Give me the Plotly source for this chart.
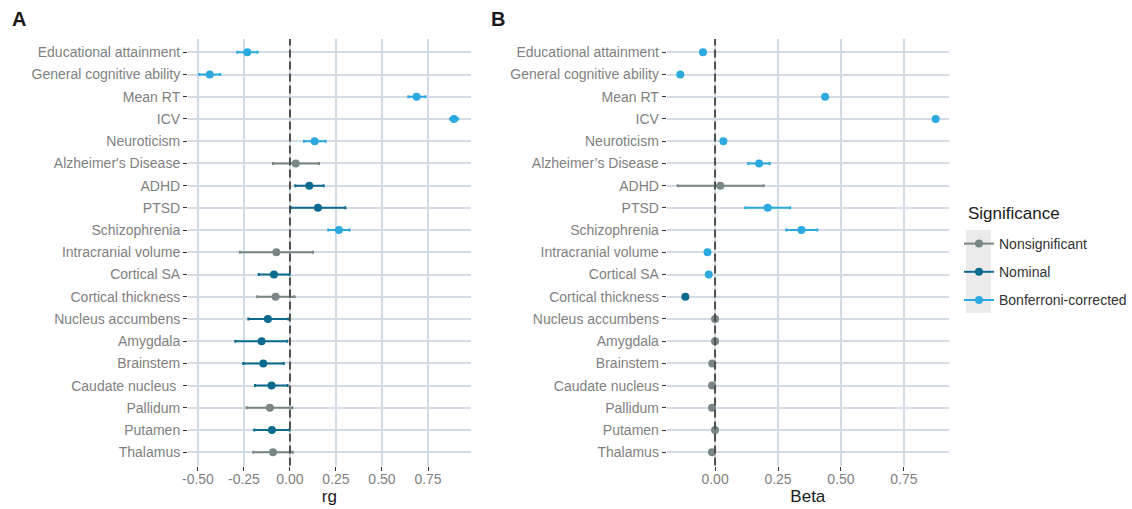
import plotly.graph_objects as go

# ---------------- data ----------------
cats_a = ["Educational attainment", "General cognitive ability", "Mean RT", "ICV",
          "Neuroticism", "Alzheimer's Disease", "ADHD", "PTSD", "Schizophrenia",
          "Intracranial volume", "Cortical SA", "Cortical thickness",
          "Nucleus accumbens", "Amygdala", "Brainstem", "Caudate nucleus\u00a0",
          "Pallidum", "Putamen", "Thalamus"]
cats_b = ["Educational attainment", "General cognitive ability", "Mean RT", "ICV",
          "Neuroticism", "Alzheimer\u2019s Disease", "ADHD", "PTSD", "Schizophrenia",
          "Intracranial volume", "Cortical SA", "Cortical thickness",
          "Nucleus accumbens", "Amygdala", "Brainstem", "Caudate nucleus",
          "Pallidum", "Putamen", "Thalamus"]

rg_est = [-0.232, -0.436, 0.688, 0.891, 0.134, 0.031, 0.105, 0.152, 0.266, -0.074,
          -0.087, -0.078, -0.120, -0.154, -0.145, -0.100, -0.109, -0.098, -0.092]
rg_lo = [-0.286, -0.493, 0.643, 0.870, 0.076, -0.092, 0.029, 0.005, 0.208, -0.272,
         -0.170, -0.178, -0.226, -0.297, -0.254, -0.190, -0.236, -0.194, -0.199]
rg_hi = [-0.176, -0.379, 0.737, 0.915, 0.194, 0.158, 0.183, 0.301, 0.324, 0.125,
         -0.002, 0.025, -0.009, -0.015, -0.034, -0.013, 0.013, -0.002, 0.015]
rg_sig = ["Bonferroni-corrected", "Bonferroni-corrected", "Bonferroni-corrected",
          "Bonferroni-corrected", "Bonferroni-corrected", "Nonsignificant", "Nominal",
          "Nominal", "Bonferroni-corrected", "Nonsignificant", "Nominal", "Nonsignificant",
          "Nominal", "Nominal", "Nominal", "Nominal", "Nonsignificant", "Nominal",
          "Nonsignificant"]

beta_est = [-0.048, -0.138, 0.437, 0.876, 0.033, 0.175, 0.021, 0.209, 0.343, -0.030,
            -0.025, -0.118, 0.000, 0.000, -0.011, -0.012, -0.012, 0.000, -0.012]
beta_lo = [-0.056, -0.145, 0.431, 0.869, 0.027, 0.132, -0.148, 0.120, 0.283, -0.036,
           -0.031, -0.124, -0.004, -0.004, -0.015, -0.016, -0.016, -0.004, -0.016]
beta_hi = [-0.040, -0.131, 0.443, 0.883, 0.039, 0.217, 0.193, 0.298, 0.406, -0.024,
           -0.019, -0.112, 0.004, 0.004, -0.007, -0.008, -0.008, 0.004, -0.008]
beta_sig = ["Bonferroni-corrected", "Bonferroni-corrected", "Bonferroni-corrected",
            "Bonferroni-corrected", "Bonferroni-corrected", "Bonferroni-corrected",
            "Nonsignificant", "Bonferroni-corrected", "Bonferroni-corrected",
            "Bonferroni-corrected", "Bonferroni-corrected", "Nominal",
            "Nonsignificant", "Nonsignificant", "Nonsignificant", "Nonsignificant",
            "Nonsignificant", "Nonsignificant", "Nonsignificant"]

sig_levels = ["Nonsignificant", "Nominal", "Bonferroni-corrected"]
sig_colors = {"Nonsignificant": "#7a8585", "Nominal": "#0b6a8e",
              "Bonferroni-corrected": "#2ca9df"}

xticks_a = [-0.5, -0.25, 0.0, 0.25, 0.5, 0.75]
xticklabels_a = ["-0.50", "-0.25", "0.00", "0.25", "0.50", "0.75"]
xticks_b = [0.0, 0.25, 0.5, 0.75]
xticklabels_b = ["0.00", "0.25", "0.50", "0.75"]

# ---------------- geometry (window pixels) ----------------
W, H = 1132, 509


def px(x):
    return x / W


def py(y):
    return 1 - y / H


FONT = "Liberation Sans, Arial, Helvetica, sans-serif"
fig = go.Figure()


def add_panel(cats, est, lo, hi, sig, xa, ya):
    for lev in sig_levels:
        idx = [i for i, s in enumerate(sig) if s == lev]
        if not idx:
            continue
        col = sig_colors[lev]
        fig.add_trace(go.Scatter(
            x=[est[i] for i in idx],
            y=[cats[i] for i in idx],
            mode="markers",
            marker=dict(color=col, size=8),
            error_x=dict(type="data", symmetric=False,
                         array=[hi[i] - est[i] for i in idx],
                         arrayminus=[est[i] - lo[i] for i in idx],
                         color=col, thickness=2, width=1.5),
            xaxis=xa, yaxis=ya, showlegend=False, hoverinfo="x+y"))


add_panel(cats_a, rg_est, rg_lo, rg_hi, rg_sig, "x", "y")
add_panel(cats_b, beta_est, beta_lo, beta_hi, beta_sig, "x2", "y2")

# legend-only traces
for lev in sig_levels:
    fig.add_trace(go.Scatter(
        x=[None], y=[None], mode="lines+markers", name=lev,
        line=dict(color=sig_colors[lev], width=2),
        marker=dict(color=sig_colors[lev], size=8),
        legendgroup=lev, showlegend=True, xaxis="x", yaxis="y"))

ydom = [py(465.6), py(39)]
grid = "#d3dce4"
tickfont = dict(family=FONT, size=14, color="#7f7f7f")

common_x = dict(showgrid=True, gridcolor=grid, gridwidth=1.6, zeroline=False,
                showline=False, ticks="outside", ticklen=4, tickwidth=1,
                tickcolor="#333333", tickfont=tickfont, automargin=False,
                ticklabelstandoff=-3)
xtitle = dict(font=dict(family=FONT, size=17, color="#1a1a1a"), standoff=3)
common_y = dict(showgrid=True, gridcolor=grid, gridwidth=1.6, zeroline=False,
                showline=False, ticks="outside", ticklen=4, tickwidth=1,
                tickcolor="#333333", tickfont=tickfont, automargin=False,
                type="category", range=[18.6, -0.6], domain=ydom)

fig.update_layout(
    width=W, height=H,
    margin=dict(l=0, r=0, t=0, b=0),
    paper_bgcolor="white", plot_bgcolor="white",
    font=dict(family=FONT),
    xaxis=dict(common_x, domain=[px(188), px(470.7)], range=[-0.554, 0.982],
               tickvals=xticks_a, ticktext=xticklabels_a, anchor="y",
               title=dict(xtitle, text="rg")),
    yaxis=dict(common_y, categoryorder="array", categoryarray=cats_a, anchor="x"),
    xaxis2=dict(common_x, domain=[px(666.7), px(949)], range=[-0.192, 0.929],
                tickvals=xticks_b, ticktext=xticklabels_b, anchor="y2",
                title=dict(xtitle, text="Beta")),
    yaxis2=dict(common_y, categoryorder="array", categoryarray=cats_b, anchor="x2"),
    # anchored at the right edge so the legend box never overflows the page
    legend=dict(x=1, y=py(228), xanchor="right", yanchor="top",
                bgcolor="rgba(0,0,0,0)", itemwidth=30, tracegroupgap=7,
                traceorder="grouped",
                font=dict(family=FONT, size=14, color="#333333")),
    showlegend=True,
)

# legend title
fig.add_annotation(text="Significance", xref="paper", yref="paper",
                   x=px(966), y=py(213), xanchor="left", yanchor="middle",
                   showarrow=False, font=dict(family=FONT, size=17, color="#1a1a1a"))

# dashed zero reference lines
for xr, yr in (("x", "y"), ("x2", "y2")):
    fig.add_shape(type="line", xref=xr, yref=yr + " domain", x0=0, x1=0, y0=0, y1=1,
                  line=dict(color="#4d4d4d", width=2, dash="8px,4px"), layer="above")

# legend key background
fig.add_shape(type="rect", xref="paper", yref="paper",
              x0=px(966), x1=px(991), y0=py(313), y1=py(230),
              fillcolor="#ebebeb", line=dict(width=0), layer="below")

# panel letters
for txt, xp in (("A", 10), ("B", 489)):
    fig.add_annotation(text="<b>%s</b>" % txt, xref="paper", yref="paper",
                       x=px(xp), y=py(19), xanchor="left", yanchor="middle",
                       showarrow=False, font=dict(family=FONT, size=20, color="#1a1a1a"))

# place the figure at the window's top-left corner, with no page margin
fig.write_html("out.html",
               config={"displayModeBar": False},
               post_script="document.body.style.margin='0';"
                           "document.body.style.overflow='hidden';")
